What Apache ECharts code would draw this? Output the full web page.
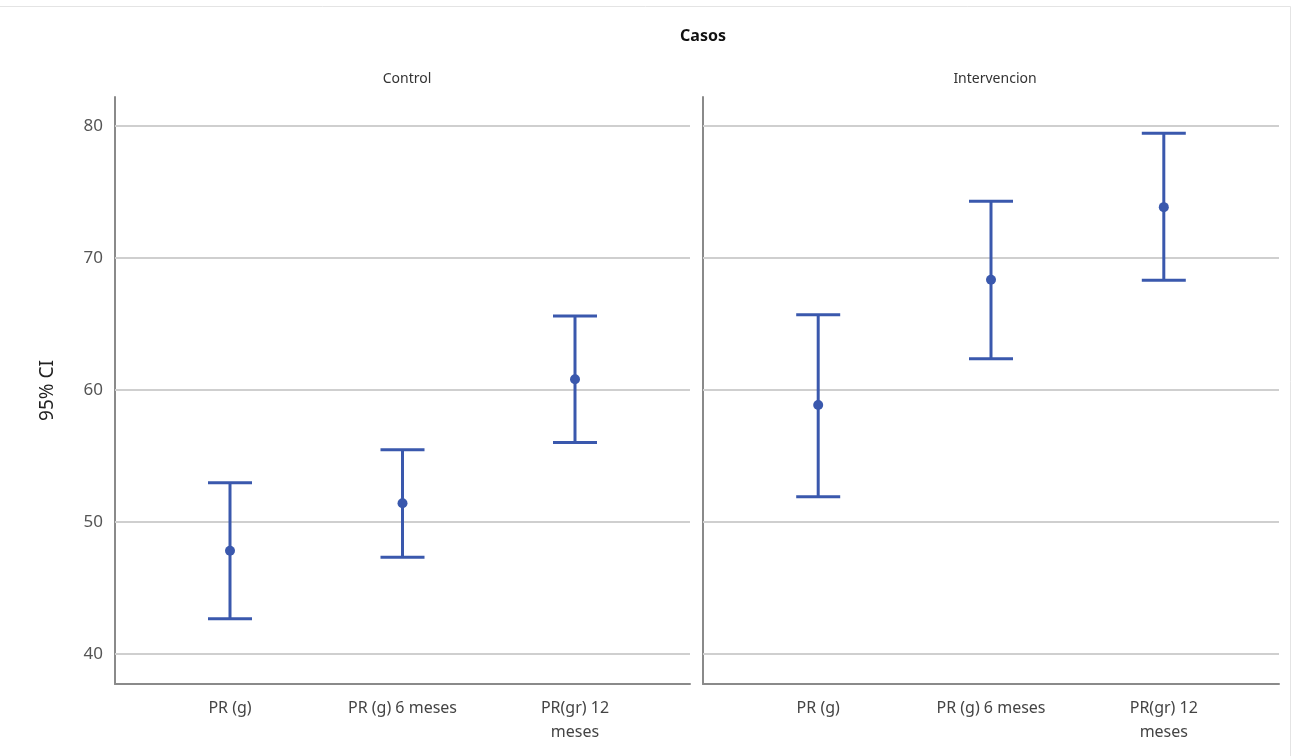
<!DOCTYPE html>
<html>
<head>
<meta charset="utf-8">
<script src="https://cdn.jsdelivr.net/npm/echarts@6/dist/echarts.min.js"></script>
<style>
html,body{margin:0;padding:0;background:#fff;}
#chart{width:1299px;height:756px;}
</style>
</head>
<body>
<div id="chart"></div>
<script>
// ---- data ----
const chartTitle = 'Casos';
const panels = ['Control', 'Intervencion'];
const categories = ['PR (g)', 'PR (g) 6 meses', 'PR(gr) 12\nmeses'];
const yTicks = [40, 50, 60, 70, 80];
const yAxisName = '95% CI';
// Control
const controlMean  = [47.8, 51.4, 60.8];
const controlLower = [42.65, 47.3, 56.0];
const controlUpper = [52.95, 55.45, 65.6];
// Intervencion
const intervMean  = [58.85, 68.35, 73.85];
const intervLower = [51.9, 62.35, 68.3];
const intervUpper = [65.7, 74.3, 79.45];

const blue = '#3a58ad';
const yMin = 37.7, yMax = 82.2;

function rows(mean, lo, hi) {
  return mean.map((m, i) => [i, lo[i], m, hi[i]]);
}

function renderItem(params, api) {
  const x = api.value(0);
  const lo = api.coord([x, api.value(1)]);
  const mid = api.coord([x, api.value(2)]);
  const hi = api.coord([x, api.value(3)]);
  const hw = 22;
  const st = { stroke: blue, lineWidth: 3, fill: null };
  return {
    type: 'group',
    children: [
      { type: 'line', shape: { x1: hi[0], y1: hi[1], x2: lo[0], y2: lo[1] }, style: st },
      { type: 'line', shape: { x1: hi[0] - hw, y1: hi[1], x2: hi[0] + hw, y2: hi[1] }, style: st },
      { type: 'line', shape: { x1: lo[0] - hw, y1: lo[1], x2: lo[0] + hw, y2: lo[1] }, style: st },
      { type: 'circle', shape: { cx: mid[0], cy: mid[1], r: 5 }, style: { fill: blue } }
    ]
  };
}

const gridLinesMark = {
  silent: true,
  symbol: 'none',
  label: { show: false },
  lineStyle: { color: '#cfcfcf', width: 2, type: 'solid' },
  data: yTicks.map(v => ({ yAxis: v }))
};

const font = 'Noto Sans';

function xAxisCfg(gi) {
  return {
    type: 'value', gridIndex: gi, min: -2/3, max: 8/3,
    splitLine: { show: false },
    axisTick: { show: false },
    axisLine: { show: true, onZero: false, lineStyle: { color: '#8a8a8a', width: 2 } },
    axisLabel: {
      customValues: [0, 1, 2],
      formatter: v => categories[Math.round(v)],
      color: '#444', fontSize: 16, fontFamily: font, margin: 12, lineHeight: 24
    }
  };
}
function yAxisCfg(gi, showLabels) {
  return {
    type: 'value', gridIndex: gi, min: yMin, max: yMax,
    splitLine: { show: false },
    axisTick: { show: false },
    axisLine: { show: true, onZero: false, lineStyle: { color: '#8a8a8a', width: 2 } },
    axisLabel: {
      show: showLabels,
      customValues: yTicks,
      color: '#555', fontSize: 17, fontFamily: font, margin: 12
    },
    name: showLabels ? yAxisName : '',
    nameLocation: 'middle',
    nameGap: 58,
    nameRotate: 90,
    nameTextStyle: { color: '#222', fontSize: 19, fontFamily: font }
  };
}

const option = {
  backgroundColor: '#fff',
  animation: false,
  title: [
    { text: chartTitle, left: 698, top: 23, textAlign: 'center',
      textStyle: { fontSize: 16, fontWeight: 'bold', color: '#111', fontFamily: font } },
    { text: panels[0], left: 402, top: 67, textAlign: 'center',
      textStyle: { fontSize: 14, fontWeight: 'normal', color: '#333', fontFamily: font } },
    { text: panels[1], left: 990, top: 67, textAlign: 'center',
      textStyle: { fontSize: 14, fontWeight: 'normal', color: '#333', fontFamily: font } }
  ],
  graphic: [
    { type: 'line', shape: { x1: 0, y1: 6.5, x2: 1290.5, y2: 6.5 }, style: { stroke: '#e4e4e4', lineWidth: 1 } },
    { type: 'line', shape: { x1: 1290.5, y1: 6.5, x2: 1290.5, y2: 756 }, style: { stroke: '#e4e4e4', lineWidth: 1 } }
  ],
  grid: [
    { left: 115, right: 609, top: 97, bottom: 72 },
    { left: 703, right: 20, top: 97, bottom: 72 }
  ],
  xAxis: [xAxisCfg(0), xAxisCfg(1)],
  yAxis: [yAxisCfg(0, true), yAxisCfg(1, false)],
  series: [
    { type: 'line', xAxisIndex: 0, yAxisIndex: 0, data: [], markLine: gridLinesMark, z: 1 },
    { type: 'line', xAxisIndex: 1, yAxisIndex: 1, data: [], markLine: gridLinesMark, z: 1 },
    { type: 'custom', xAxisIndex: 0, yAxisIndex: 0, renderItem: renderItem,
      data: rows(controlMean, controlLower, controlUpper), z: 5 },
    { type: 'custom', xAxisIndex: 1, yAxisIndex: 1, renderItem: renderItem,
      data: rows(intervMean, intervLower, intervUpper), z: 5 }
  ]
};

const chart = echarts.init(document.getElementById('chart'));
chart.setOption(option);
</script>
</body>
</html>
